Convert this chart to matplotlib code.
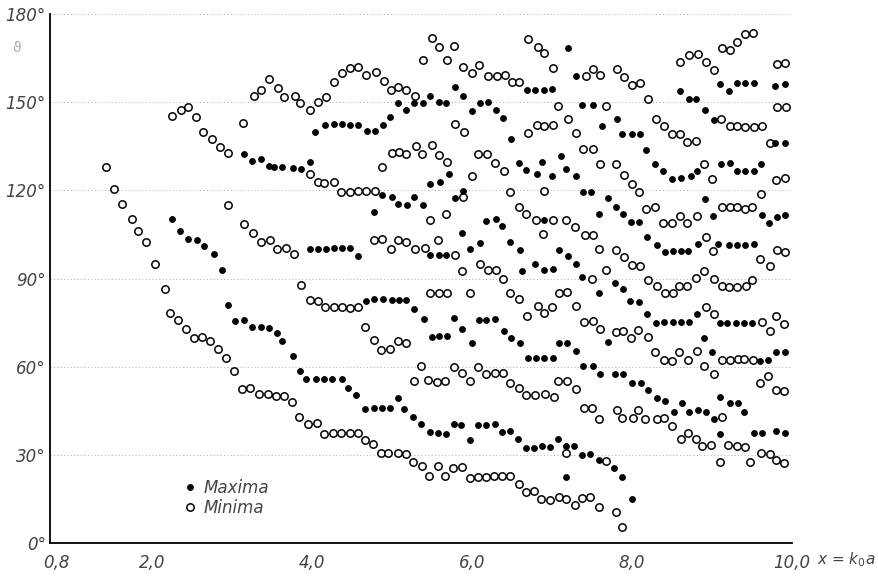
import matplotlib
matplotlib.use("Agg")
import matplotlib.pyplot as plt
from matplotlib.lines import Line2D

# Maxima (filled dots), grouped roughly by branch: k0a, angle in degrees
max_a_x = [2.25, 2.35, 2.45, 2.56, 2.65, 2.77, 2.87, 2.95, 3.04, 3.15, 3.25, 3.36, 3.46, 3.56, 3.63,
           3.76, 3.85, 3.93, 4.05, 4.15, 4.25, 4.37, 4.45, 4.55, 4.66, 4.78, 4.88, 4.98, 5.07, 5.15,
           5.26, 5.36, 5.47, 5.57, 5.68, 5.77, 5.86, 5.98, 6.07, 6.18, 6.29, 6.37, 6.48, 6.58, 6.68,
           6.78, 6.88, 6.98, 7.07, 7.18, 7.28, 7.38, 7.48, 7.59, 7.78, 7.87, 8.0, 7.17]
max_a_deg = [110.2, 106.1, 103.4, 103, 101, 98.5, 92.9, 81, 75.6, 75.9, 73.6, 73.4, 73, 71.3, 68.7,
             63.6, 58.6, 55.7, 55.7, 55.7, 55.8, 55.8, 52.6, 50.3, 45.6, 46, 46, 45.8, 49.2, 45.6,
             42.8, 40.4, 37.9, 37.5, 37.1, 40.5, 40.1, 35, 40.1, 40.1, 40.5, 37.6, 38.1, 35.3, 32.2,
             32.4, 33.1, 32.8, 35.3, 33.1, 33.1, 29.9, 30.2, 28.2, 25.6, 22.6, 14.9, 22.6]

max_b_x = [3.15, 3.25, 3.36, 3.46, 3.53, 3.63, 3.76, 3.86, 3.98, 3.98, 4.08, 4.17, 4.27, 4.37, 4.48,
           4.57, 4.68, 4.78, 4.89, 5.0, 5.09, 5.18, 5.28, 5.40, 5.50, 5.59, 5.69, 5.78, 5.88, 6.0,
           6.09, 6.18, 6.29, 6.4, 6.49, 6.6, 6.7, 6.8, 6.9, 7.01, 7.09, 7.19, 7.3, 7.39, 7.51,
           7.6, 7.7, 7.79, 7.89, 8.0, 8.11, 8.2, 8.31, 8.41, 8.52, 8.62, 8.71, 8.82, 8.92, 9.02,
           9.1, 9.22, 9.33, 9.4, 9.1, 9.52, 9.62, 9.8, 9.91]
max_b_deg = [132.5, 130, 130.5, 128.2, 128, 127.8, 127.7, 127.2, 129.5, 99.9, 99.9, 100, 100.4, 100.4, 100.4,
             97.6, 82.4, 82.9, 82.9, 82.7, 82.7, 82.7, 79.5, 76.1, 70.2, 70.4, 70.4, 76.4, 72.7, 68.1,
             75.9, 75.9, 76.1, 72.2, 69.6, 68.1, 62.8, 63, 63, 62.8, 68.1, 68.1, 65.3, 60.2, 60.2,
             57.4, 68.3, 57.5, 57.5, 54.3, 54.3, 52, 49.5, 48.4, 44.7, 47.7, 44.5, 45.2, 44.7, 42.1,
             49.8, 47.7, 47.7, 44.7, 37.1, 37.5, 37.5, 38.2, 37.5]

max_c_x = [4.04, 4.16, 4.27, 4.37, 4.47, 4.57, 4.69, 4.79, 4.89, 4.97, 5.08, 5.18, 5.28, 5.39, 5.47,
           5.59, 5.67, 5.79, 5.89, 6.0, 6.1, 6.2, 6.3, 6.39, 6.49, 6.69, 6.79, 6.9, 7.0, 7.2,
           7.3, 7.38, 7.51, 7.63, 7.81, 7.88, 8.0, 8.1, 8.18, 8.6, 8.71, 8.8, 8.91, 9.02, 9.1,
           9.21, 9.31, 9.41, 9.52, 9.79, 9.91, 9.79, 9.91]
max_c_deg = [139.9, 142.4, 142.5, 142.7, 142.2, 142.4, 140.2, 140.1, 142.4, 145, 149.6, 147.3, 149.6, 149.6, 152.2,
             150.1, 149.6, 155.2, 152, 147, 149.8, 150.1, 147.3, 144.7, 137.6, 154.1, 154.3, 154.1, 154.4, 168.5,
             158.9, 149.2, 149.2, 141.8, 144.2, 139, 139.3, 139.3, 133.7, 153.9, 151, 151, 147.5, 144.1, 156.1,
             153.9, 156.6, 156.4, 156.4, 155.4, 156.1, 136.1, 136.1]

max_d_x = [4.78, 4.88, 5.0, 5.07, 5.19, 5.28, 5.39, 5.47, 5.6, 5.71, 5.79, 5.89, 6.59, 6.68, 6.81,
           6.88, 7.0, 7.11, 7.18, 7.3, 7.39, 7.49, 7.59, 7.7, 7.8, 7.89, 7.99, 8.09, 8.19, 8.31,
           8.41, 8.51, 8.61, 8.7, 8.82, 9.08, 9.21, 9.31, 9.41, 9.52, 8.29, 8.39, 8.5, 8.61, 8.74,
           8.81, 9.11, 9.22, 9.31, 9.41, 9.52, 9.61, 8.91, 9.01, 9.62, 9.71, 9.81, 9.91]
max_d_deg = [112.7, 118.4, 117.8, 115.5, 115, 117.8, 115, 122.3, 122.9, 125.4, 117.4, 119.7, 129.4, 126.9, 125.4,
             129.6, 124.9, 131.7, 127.1, 124.9, 119.5, 119.5, 111.8, 117.4, 114.4, 111.8, 109.3, 109.3, 104.2, 101.4,
             99.1, 99.5, 99.5, 99.5, 101.6, 101.9, 101.4, 101.4, 101.4, 101.6, 129.1, 126.6, 124, 124.2, 125,
             126.5, 129.1, 129.4, 126.6, 126.5, 126.5, 128.8, 116.9, 111.2, 111.6, 108.8, 111, 111.6]

max_e_x = [5.47, 5.59, 5.68, 5.88, 5.98, 6.1, 6.18, 6.3, 6.38, 6.48, 6.6, 6.63, 6.79, 6.9, 7.01,
           6.9, 7.09, 7.2, 7.3, 7.38, 7.59, 7.79, 7.89, 7.98, 8.09, 8.19, 8.3, 8.4, 8.51, 8.61,
           8.71, 8.81, 8.9, 9.0, 9.1, 9.19, 9.3, 9.4, 9.5, 9.6, 9.7, 9.8, 9.91]
max_e_deg = [98, 98, 98, 105.5, 100.2, 102.1, 109.6, 110.1, 107.8, 102.5, 99.7, 92.5, 94.8, 92.9, 93.1,
             109.9, 99.7, 97.6, 94.8, 90.6, 85.1, 88.3, 86.3, 82.4, 81.9, 77.8, 74.9, 75.3, 75.1, 75.1,
             75.1, 77.8, 69.6, 65.1, 74.7, 74.7, 74.9, 74.7, 74.9, 62, 62.2, 64.9, 64.9]

# Minima (open circles)
min_a_x = [1.43, 1.52, 1.63, 1.75, 1.82, 1.93, 2.04, 2.16, 2.23, 2.33, 2.43, 2.53, 2.63, 2.73, 2.83,
           2.93, 3.03, 3.12, 3.23, 3.34, 3.45, 3.55, 3.65, 3.75, 3.84, 3.95, 4.06, 4.15, 4.26, 4.36,
           4.47, 4.57, 4.66, 4.76, 4.86, 4.95, 5.07, 5.17, 5.26, 5.37, 5.46, 5.57, 5.66, 5.76, 5.88,
           5.98, 6.08, 6.18, 6.27, 6.37, 6.48, 6.59, 6.68, 6.78, 6.86, 6.98, 7.09, 7.17, 7.29, 7.38,
           7.48, 7.59, 7.8, 7.88]
min_a_deg = [128, 120.3, 115.5, 110.3, 106, 102.4, 95, 86.3, 78.1, 75.9, 72.8, 69.6, 70, 68.8, 66,
             62.8, 58.6, 52.4, 52.6, 50.6, 50.6, 50, 50, 48.1, 42.8, 40.5, 40.9, 37.1, 37.3, 37.3,
             37.3, 37.5, 35, 33.7, 30.7, 30.7, 30.7, 30.3, 27.7, 26.3, 22.8, 26.2, 22.9, 25.4, 26,
             22.2, 22.6, 22.6, 22.8, 22.8, 22.8, 20.1, 17.4, 17.8, 15, 14.6, 15.5, 14.9, 12.9, 15.2,
             15.5, 12.3, 10.6, 5.3]

min_b_x = [2.25, 2.36, 2.45, 2.55, 2.64, 2.75, 2.85, 2.95, 3.14, 3.27, 3.36, 3.46, 3.57, 3.65, 3.79,
           3.85, 3.98, 4.07, 4.17, 4.27, 4.37, 4.47, 4.58, 4.68, 4.80, 4.9, 4.99, 5.08, 5.18, 5.29,
           5.39, 5.50, 5.59, 5.69, 5.78, 5.89, 6.0, 6.09, 6.2, 6.31, 6.41, 6.5, 6.59, 6.7, 6.82,
           6.9, 7.01, 7.08, 7.2, 7.42, 7.51, 7.6, 7.68, 7.81, 7.9, 8.0, 8.1, 8.2, 8.6, 8.71,
           8.82, 8.92, 9.03, 9.13, 9.23, 9.31, 9.41, 9.51, 9.81, 9.91, 9.81, 9.93]
min_b_deg = [145.3, 147.5, 148.2, 145, 139.8, 137.3, 134.8, 132.8, 143, 152, 154.3, 157.8, 154.9, 151.8, 152,
             149.6, 147.3, 150, 151.6, 157, 159.8, 161.7, 162, 159.4, 160.3, 157.2, 154.3, 155, 154.3, 152,
             164.5, 172, 168.8, 164.5, 169.2, 161.8, 159.8, 162.8, 159, 159, 159.4, 156.7, 156.9, 171.4, 168.8,
             166.8, 161.7, 148.6, 144.4, 158.8, 161.4, 159.2, 148.6, 161.2, 158.6, 155.8, 156.4, 151.2, 163.7, 166,
             166.3, 163.5, 160.9, 168.5, 167.9, 170.5, 173.3, 173.6, 162.9, 163.4, 148.4, 148.4]

min_c_x = [9.11, 9.22, 9.31, 9.41, 9.52, 9.62, 9.72, 8.3, 8.4, 8.5, 8.6, 8.69, 8.8, 5.79, 5.9,
           6.7, 6.81, 6.9, 7.01, 7.3, 2.95, 3.15, 3.26, 3.36, 3.47, 3.56, 3.68, 3.78, 3.86, 3.97,
           4.07, 4.16, 4.27, 4.37, 4.48, 4.58, 3.98, 4.07, 4.15, 4.28, 4.36, 4.48, 4.58, 4.68, 4.79,
           4.88, 5.0, 5.09, 5.18, 5.3, 5.38, 5.5, 5.59, 5.69, 6.0, 6.08, 6.19, 6.29, 6.4]
min_c_deg = [144.4, 141.8, 141.8, 141.6, 141.6, 141.8, 136.1, 144.4, 141.8, 139, 139, 136.5, 136.7, 142.7, 139.9,
             139.6, 142.4, 141.9, 142.4, 139.6, 115, 108.4, 105.5, 102.5, 103.1, 100.2, 100.4, 98.2, 87.8, 82.7,
             82.4, 80.4, 80.4, 80.4, 80, 80.4, 125.5, 122.9, 122.5, 122.9, 119.3, 119.3, 119.8, 119.8, 119.7,
             128, 132.8, 133, 132.5, 135.1, 132.5, 135.4, 132, 129.7, 124.8, 132.2, 132.5, 129.4, 126.6]

min_d_x = [7.39, 7.51, 7.6, 7.8, 7.9, 8.0, 8.09, 8.9, 9.0, 9.8, 9.91, 9.61, 5.89, 6.48, 6.9,
           5.47, 5.67, 6.59, 6.68, 6.8, 7.01, 7.18, 7.29, 6.89, 7.41, 7.51, 8.18, 8.29, 8.39, 8.5,
           8.6, 8.69, 8.81, 9.12, 9.22, 9.31, 9.41, 9.5]
min_d_deg = [134.2, 134, 129.1, 129.1, 125.2, 122.1, 119.5, 128.8, 124, 123.5, 124.3, 118.7, 117.6, 119.5, 119.7,
             109.9, 112.1, 114.2, 112.1, 109.9, 109.9, 109.9, 107.6, 105, 104.8, 104.8, 113.8, 114.4, 108.9, 108.9,
             111.2, 108.8, 111.2, 114.2, 114.2, 114.2, 113.8, 114.2]

min_e_x = [4.78, 4.88, 4.99, 5.08, 5.18, 5.29, 5.41, 5.58, 5.79, 5.88, 6.1, 6.2, 6.3, 6.39, 7.5,
           7.59, 7.8, 7.68, 7.9, 8.0, 8.1, 8.92, 9.01, 9.6, 9.73, 9.81, 9.91, 8.2, 8.31, 8.59,
           8.69, 8.8, 8.9, 9.03, 9.12, 9.21, 9.31, 9.42, 9.5, 8.41, 8.51]
min_e_deg = [103.1, 103.3, 100.2, 103.1, 102.5, 99.9, 100.4, 103.1, 98, 92.6, 95.1, 92.9, 92.9, 90, 90,
             99.9, 99.7, 92.9, 97.4, 94.6, 94.2, 104.2, 99.3, 96.5, 94.2, 99.7, 98.9, 89.5, 87.4, 87.4,
             87.4, 90.3, 92.6, 89.7, 87.4, 87, 87.2, 87.4, 89.5, 84.9, 84.9]

min_f_x = [4.66, 4.78, 4.86, 4.97, 5.07, 5.17, 5.27, 5.36, 5.45, 5.47, 5.59, 5.69, 5.98, 6.48, 6.59,
           6.69, 6.82, 6.9, 7.0, 7.09, 7.19, 7.3, 7.4, 7.51, 7.6, 7.8, 7.89, 7.99, 8.08, 8.2,
           8.93, 9.03, 9.62, 9.73, 9.8, 9.9, 8.29, 8.4, 8.5, 8.59, 8.7, 8.81, 9.12, 9.22, 9.32,
           9.4, 9.51, 8.9, 9.03, 9.6, 9.7, 9.8, 9.9]
min_f_deg = [73.6, 69, 65.6, 65.9, 68.8, 67.9, 55.2, 60.2, 55.4, 84.9, 84.9, 85.1, 85.1, 84.9, 83,
             77.3, 80.6, 78.1, 80.4, 84.9, 85.5, 80.6, 75.3, 75.6, 72.8, 71.9, 72.1, 69.8, 72.4, 70.2,
             80.4, 77.8, 75.3, 72.2, 77.2, 74.5, 65.1, 62.2, 61.9, 65.1, 62.2, 65.3, 62.2, 62.2, 62.6,
             62.5, 62.2, 60.2, 57.5, 54.5, 56.9, 52, 51.8]

min_g_x = [5.56, 5.66, 5.78, 5.87, 5.98, 6.08, 6.18, 6.29, 6.39, 6.48, 6.59, 6.68, 6.79, 6.91, 7.02,
           7.08, 7.19, 7.3, 7.4, 7.5, 7.59, 7.81, 7.87, 8.01, 8.08, 8.16, 8.31, 8.4, 8.5, 8.61,
           8.7, 8.8, 8.88, 8.99, 9.12, 9.2, 9.31, 9.41, 9.1, 9.48, 9.61, 9.72, 9.8, 9.9, 7.18, 7.68]
min_g_deg = [54.9, 55.2, 60, 57.9, 55.2, 59.8, 57.4, 57.7, 57.9, 54.5, 52.6, 50.3, 50.3, 50.6, 49.8,
             55.2, 55.2, 52.3, 45.8, 45.8, 42.1, 45.2, 42.6, 42.6, 45.2, 42.1, 42.1, 42.6, 39.9, 35.3,
             37.5, 35.3, 33.1, 33.3, 42.8, 33.3, 33, 32.8, 27.7, 27.7, 30.7, 30.3, 28.2, 27.3, 30.5, 27.9]

x_ticks = [0.8, 2.0, 4.0, 6.0, 8.0, 10.0]
x_tick_labels = ["0,8", "2,0", "4,0", "6,0", "8,0", "10,0"]
y_ticks = [0, 30, 60, 90, 120, 150, 180]
y_tick_labels = ["0°", "30°", "60°", "90°", "120°", "150°", "180°"]

maxima_x = max_a_x + max_b_x + max_c_x + max_d_x + max_e_x
maxima_deg = max_a_deg + max_b_deg + max_c_deg + max_d_deg + max_e_deg
minima_x = min_a_x + min_b_x + min_c_x + min_d_x + min_e_x + min_f_x + min_g_x
minima_deg = min_a_deg + min_b_deg + min_c_deg + min_d_deg + min_e_deg + min_f_deg + min_g_deg

W, H = 879, 578
fig = plt.figure(figsize=(W / 100, H / 100), dpi=100)
ax = fig.add_axes([50 / W, 1 - 543 / H, (792 - 50) / W, (543 - 14) / H])

ax.plot(minima_x, minima_deg, linestyle="none", marker="o", markersize=5.3,
        markerfacecolor="white", markeredgecolor="black", markeredgewidth=1.1)
ax.plot(maxima_x, maxima_deg, linestyle="none", marker="o", markersize=3.9,
        color="black")

ax.set_xlim(0.725, 10.0)
ax.set_ylim(0, 180)

for g in y_ticks[1:]:
    ax.axhline(g, color="#aaaaaa", linestyle=(0, (1, 2.5)), linewidth=0.7, zorder=0)

for s in ["top", "right"]:
    ax.spines[s].set_visible(False)
ax.spines["left"].set_linewidth(1.3)
ax.spines["bottom"].set_linewidth(1.3)

tick_font = dict(style="italic", color="#444444", fontsize=12)
ax.set_xticks(x_ticks)
ax.set_xticklabels(x_tick_labels, **tick_font)
ax.set_yticks(y_ticks)
ax.set_yticklabels(y_tick_labels, **tick_font)
ax.tick_params(axis="both", length=0)
ax.tick_params(axis="x", pad=8)
ax.tick_params(axis="y", pad=3)

fig.text(817 / W, 1 - 560 / H, r"x = k$_0$a", style="italic", color="#444444",
         fontsize=11, va="center")
fig.text(12 / W, 1 - 48 / H, "ϑ", color="#aaaaaa", fontsize=10, va="center")

handles = [
    Line2D([], [], linestyle="none", marker="o", markersize=3.9, color="black", label="Maxima"),
    Line2D([], [], linestyle="none", marker="o", markersize=5.3, markerfacecolor="white",
           markeredgecolor="black", markeredgewidth=1.1, label="Minima"),
]
leg = ax.legend(handles=handles, loc="upper left", bbox_to_anchor=(0.16, 0.15),
                frameon=False, handlelength=0.8, handletextpad=0.4, labelspacing=0.15,
                prop={"style": "italic", "size": 12})
for t in leg.get_texts():
    t.set_color("#444444")

fig.savefig("out.png", dpi=100)
